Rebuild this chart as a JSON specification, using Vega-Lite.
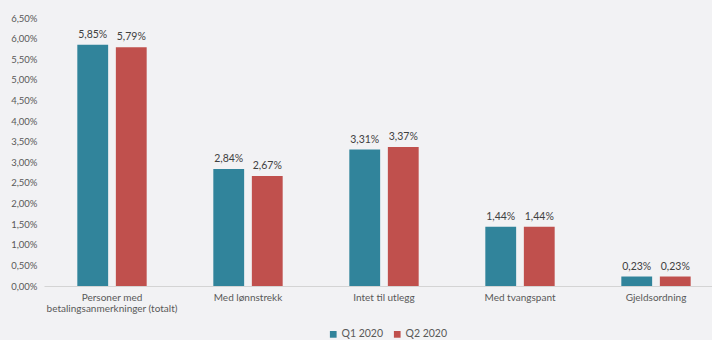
{
  "$schema": "https://vega.github.io/schema/vega-lite/v6.json",
  "autosize": "none",
  "width": 680,
  "height": 268,
  "padding": {"left": 44, "top": 18, "right": 0, "bottom": 54},
  "background": "#f2f2f4",
  "config": {
    "view": {"stroke": null},
    "font": "Lato",
    "locale": {"number": {"decimal": ",", "thousands": ".", "grouping": [3], "currency": ["", " kr"]}}
  },
  "data": {
    "values": [
      {"kategori": "Personer med|betalingsanmerkninger (totalt)", "periode": "Q1 2020", "andel": 0.0585},
      {"kategori": "Personer med|betalingsanmerkninger (totalt)", "periode": "Q2 2020", "andel": 0.0579},
      {"kategori": "Med lønnstrekk", "periode": "Q1 2020", "andel": 0.0284},
      {"kategori": "Med lønnstrekk", "periode": "Q2 2020", "andel": 0.0267},
      {"kategori": "Intet til utlegg", "periode": "Q1 2020", "andel": 0.0331},
      {"kategori": "Intet til utlegg", "periode": "Q2 2020", "andel": 0.0337},
      {"kategori": "Med tvangspant", "periode": "Q1 2020", "andel": 0.0144},
      {"kategori": "Med tvangspant", "periode": "Q2 2020", "andel": 0.0144},
      {"kategori": "Gjeldsordning", "periode": "Q1 2020", "andel": 0.0023},
      {"kategori": "Gjeldsordning", "periode": "Q2 2020", "andel": 0.0023}
    ]
  },
  "encoding": {
    "x": {
      "field": "kategori", "type": "nominal", "sort": null,
      "scale": {"paddingInner": 0.49, "paddingOuter": 0.245},
      "axis": {
        "title": null, "labelAngle": 0, "ticks": false, "domainColor": "#d4d4d4", "domainWidth": 1,
        "labelColor": "#595959", "labelFontSize": 10, "labelPadding": 6, "labelLineHeight": 11,
        "labelExpr": "split(datum.label, '|')"
      }
    },
    "xOffset": {"field": "periode", "type": "nominal", "scale": {"paddingInner": 0.2, "paddingOuter": 0}},
    "y": {
      "field": "andel", "type": "quantitative",
      "scale": {"domain": [0, 0.065], "nice": false},
      "axis": {
        "title": null, "format": ".2%", "values": [0, 0.005, 0.01, 0.015, 0.02, 0.025, 0.03, 0.035, 0.04, 0.045, 0.05, 0.055, 0.06, 0.065],
        "grid": false, "domain": false, "ticks": false, "labelColor": "#595959", "labelFontSize": 9.5, "labelPadding": 7
      }
    }
  },
  "layer": [
    {
      "mark": {"type": "bar", "strokeWidth": 1},
      "encoding": {
        "color": {
          "field": "periode", "type": "nominal",
          "scale": {"range": ["#31849b", "#c0504d"]},
          "legend": {"orient": "none", "legendX": 284, "legendY": 311, "direction": "horizontal", "title": null, "symbolType": "square", "symbolSize": 45, "labelColor": "#595959", "labelFontSize": 10.5, "labelOffset": 3, "columnPadding": 8}
        }
      }
    },
    {
      "mark": {"type": "text", "baseline": "bottom", "dy": -5, "fontSize": 10.5, "color": "#404040"},
      "encoding": {"text": {"field": "andel", "type": "quantitative", "format": ".2%"}}
    }
  ]
}
